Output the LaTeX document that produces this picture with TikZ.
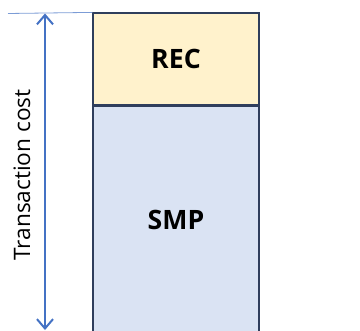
\documentclass[tikz,border=0pt]{standalone}
\usepackage{fontspec}
\setmainfont{Open Sans}
\usetikzlibrary{arrows.meta}
\definecolor{recfill}{HTML}{FFF2CC}
\definecolor{smpfill}{HTML}{DAE3F3}
\definecolor{boxline}{HTML}{2F3E5C}
\definecolor{arrowblue}{HTML}{4472C4}
\tikzset{
  costbox/.style={draw=boxline, line width=0.9pt, minimum width=124.5pt, inner sep=0pt, font=\bfseries\fontsize{20}{24}\selectfont},
}

\begin{document}
\begin{tikzpicture}[x=0.75pt, y=-0.75pt]
\useasboundingbox (0, 0) rectangle (360, 331);
\clip (0, 0) rectangle (360, 331);

\node [costbox, fill=recfill, minimum height=69pt] (rec) at (176, 59) {REC};
\node [costbox, fill=smpfill, minimum height=171pt, anchor=north] (smp) at (rec.south) {SMP};

\coordinate (top) at (45, 13.5);
\coordinate (bot) at (45, 330);
\coordinate (tick) at (8, 13.5);
\draw [arrowblue!70, line width=0.6pt] (tick) -- (rec.north west);
\draw [{Straight Barb[length=7pt, width=12pt, line width=1.5pt]}-{Straight Barb[length=7pt, width=12pt, line width=1.5pt]}, arrowblue, line width=1.8pt] (top) -- (bot);

\node [rotate=90, font=\fontsize{17}{20}\selectfont] (label) at (22, 175) {Transaction cost};
\end{tikzpicture}
\end{document}
